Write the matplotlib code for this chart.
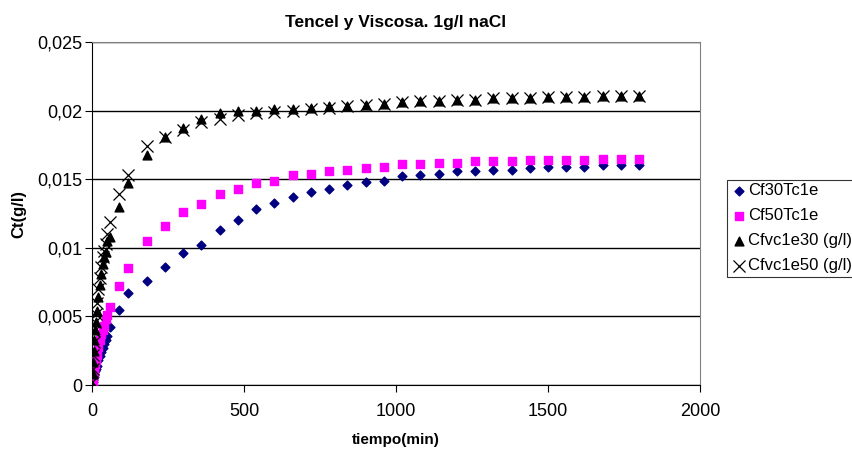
import matplotlib
matplotlib.use("Agg")
from matplotlib import pyplot as plt
from matplotlib.ticker import FuncFormatter

plt.rcParams['font.family'] = ['Liberation Sans', 'DejaVu Sans']

# tiempos de muestreo (min)
tiempo = [0, 2, 4, 6, 8, 10, 12, 15, 20, 25, 30, 35, 40, 45, 50, 60, 90, 120,
          180, 240, 300, 360, 420, 480, 540, 600, 660, 720, 780, 840, 900,
          960, 1020, 1080, 1140, 1200, 1260, 1320, 1380, 1440, 1500, 1560,
          1620, 1680, 1740, 1800]

cf30tc1e = [0.0, 0.0002, 0.0004, 0.0006, 0.0008, 0.0010, 0.0012, 0.0014, 0.0018,
            0.0021, 0.0024, 0.0027, 0.0030, 0.0033, 0.0036, 0.0042, 0.0055, 0.0067,
            0.0076, 0.0086, 0.0096, 0.0102, 0.0113, 0.0120, 0.0128, 0.0133, 0.0137,
            0.0141, 0.0143, 0.0146, 0.0148, 0.0149, 0.0152, 0.0153, 0.0154, 0.0156,
            0.0156, 0.0157, 0.0157, 0.0158, 0.0159, 0.0159, 0.0159, 0.0160, 0.0160,
            0.0160]

cf50tc1e = [0.0, 0.0003, 0.0006, 0.0009, 0.0012, 0.0015, 0.0018, 0.0022, 0.0028,
            0.0033, 0.0037, 0.0040, 0.0043, 0.0048, 0.0051, 0.0057, 0.0072, 0.0085,
            0.0105, 0.0116, 0.0126, 0.0132, 0.0139, 0.0143, 0.0147, 0.0149, 0.0153,
            0.0154, 0.0156, 0.0157, 0.0158, 0.0159, 0.0161, 0.0161, 0.0162, 0.0162,
            0.0163, 0.0163, 0.0163, 0.0164, 0.0164, 0.0164, 0.0164, 0.0165, 0.0165,
            0.0165]

cfvc1e30 = [0.0, 0.0008, 0.0017, 0.0025, 0.0033, 0.0040, 0.0046, 0.0054, 0.0064,
            0.0073, 0.0081, 0.0088, 0.0093, 0.0097, 0.0105, 0.0108, 0.0130, 0.0147,
            0.0168, 0.0181, 0.0187, 0.0194, 0.0198, 0.0200, 0.0200, 0.0201, 0.0201,
            0.0202, 0.0203, 0.0203, 0.0204, 0.0205, 0.0206, 0.0207, 0.0207, 0.0208,
            0.0208, 0.0209, 0.0209, 0.0209, 0.0210, 0.0210, 0.0210, 0.0211, 0.0211,
            0.0211]

cfvc1e50 = [0.0002, 0.0012, 0.0022, 0.0031, 0.0039, 0.0046, 0.0052, 0.0060, 0.0070,
            0.0078, 0.0086, 0.0093, 0.0098, 0.0103, 0.0110, 0.0119, 0.0139, 0.0153,
            0.0174, 0.0181, 0.0186, 0.0192, 0.0194, 0.0197, 0.0198, 0.0199, 0.0200,
            0.0201, 0.0202, 0.0203, 0.0204, 0.0205, 0.0206, 0.0207, 0.0207, 0.0208,
            0.0208, 0.0209, 0.0209, 0.0209, 0.0210, 0.0210, 0.0210, 0.0211, 0.0211,
            0.0211]

fig = plt.figure(figsize=(8.53, 4.51), dpi=100)
ax = fig.add_axes([92/853, 1 - 385/451, 608/853, 343/451])

ax.scatter(tiempo, cf30tc1e, marker='D', s=20, color='#000080', label='Cf30Tc1e', zorder=3)
ax.scatter(tiempo, cf50tc1e, marker='s', s=40, color='#FF00FF', label='Cf50Tc1e', zorder=3)
ax.scatter(tiempo, cfvc1e30, marker='^', s=40, color='black', label='Cfvc1e30 (g/l)', zorder=4)
ax.scatter(tiempo, cfvc1e50, marker='x', s=75, color='black', linewidths=0.9,
           label='Cfvc1e50 (g/l)', zorder=4)

ax.set_xlim(0, 2000)
ax.set_ylim(0, 0.025)
ax.set_xticks([0, 500, 1000, 1500, 2000])
ax.set_yticks([0, 0.005, 0.01, 0.015, 0.02, 0.025])
ax.yaxis.set_major_formatter(FuncFormatter(lambda v, p: '0' if v == 0 else ('%g' % v).replace('.', ',')))
ax.yaxis.grid(True, color='black', linewidth=1)
ax.set_axisbelow(True)
ax.tick_params(direction='out', length=5, labelsize=13, color='black')
ax.tick_params(axis='y', pad=2)
ax.tick_params(axis='x', pad=8)

for side in ['top', 'right']:
    ax.spines[side].set_color('#808080')
for side in ['left', 'bottom']:
    ax.spines[side].set_color('black')

ax.set_title('Tencel y Viscosa. 1g/l naCl', fontsize=12.5, fontweight='bold', pad=11)
ax.set_xlabel('tiempo(min)', fontsize=11, fontweight='bold', labelpad=9)
ax.set_ylabel('Ct(g/l)', fontsize=12, fontweight='bold', labelpad=8)

leg = fig.legend(loc='upper left', bbox_to_anchor=(727/853, 1 - 180/451), fontsize=12,
                 frameon=True, fancybox=False, edgecolor='black', borderpad=0.2,
                 handletextpad=0.05, handlelength=1.0, labelspacing=0.6, borderaxespad=0)
leg.get_frame().set_linewidth(0.8)

fig.savefig('out.png', dpi=100)
